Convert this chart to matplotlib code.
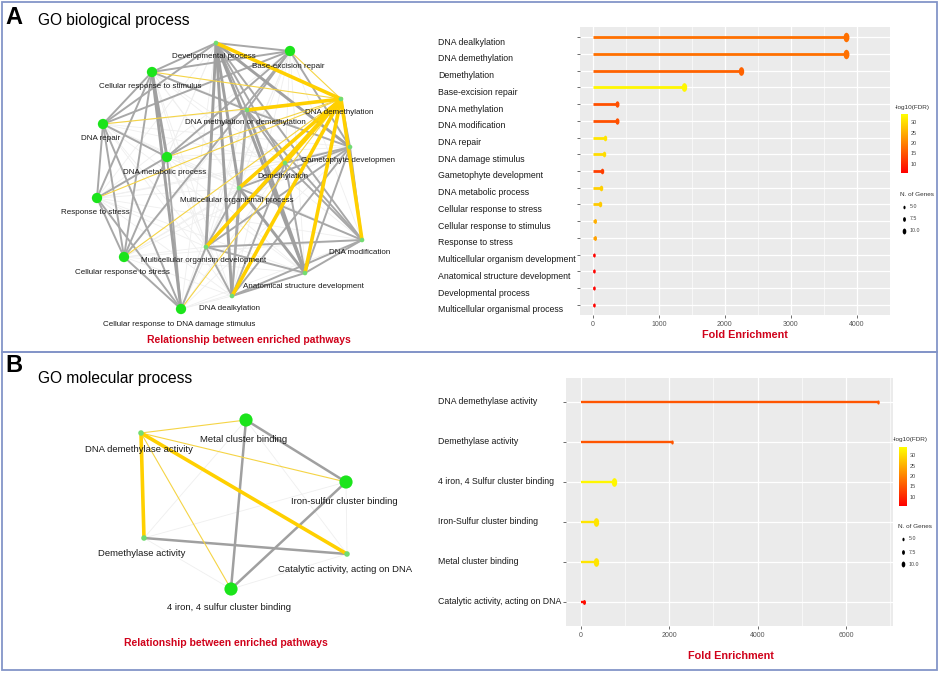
"""
GO enrichment figure: pathway networks plus fold-enrichment lollipop charts.
"""

import numpy as np
import matplotlib
matplotlib.use("Agg")
import matplotlib.pyplot as plt
import matplotlib.transforms as mtransforms
from matplotlib.collections import LineCollection
from matplotlib.colors import LinearSegmentedColormap, Normalize
from matplotlib.cm import ScalarMappable
from matplotlib.patches import Rectangle
from matplotlib.path import Path
from matplotlib.markers import MarkerStyle

plt.rcParams['font.family'] = ['Liberation Sans', 'DejaVu Sans']

W, H = 941, 673

# ---------------- panel A : GO biological process (lollipop) ----------------
bp_terms = [
    "DNA dealkylation", "DNA demethylation", "Demethylation", "Base-excision repair",
    "DNA methylation", "DNA modification", "DNA repair", "DNA damage stimulus",
    "Gametophyte development", "DNA metabolic process", "Cellular response to stress",
    "Cellular response to stimulus", "Response to stress",
    "Multicellular organism development", "Anatomical structure development",
    "Developmental process", "Multicellular organismal process",
]
bp_fold = [3840, 3840, 2240, 1380, 370, 370, 180, 165, 145, 128, 115, 38, 28, 14, 14, 14, 14]
bp_fdr = [18, 18, 16.5, 33, 14.5, 14.5, 31, 30, 12.5, 28.5, 28, 25, 23.5, 6, 6, 6, 6]
bp_genes = [10, 10, 9, 9, 6, 6, 5, 5, 5, 5, 5, 4, 4, 3, 3, 3, 3]
bp_xticks = [0, 1000, 2000, 3000, 4000]

# ---------------- panel B : GO molecular process (lollipop) ----------------
mf_terms = [
    "DNA demethylase activity", "Demethylase activity", "4 iron, 4 Sulfur cluster binding",
    "Iron-Sulfur cluster binding", "Metal cluster binding", "Catalytic activity, acting on DNA",
]
mf_fold = [6730, 2070, 750, 333, 333, 68]
mf_fdr = [15, 15, 33, 31, 31, 7]
mf_genes = [3, 3, 9, 9, 9, 4]
mf_xticks = [0, 2000, 4000, 6000]

fdr_ticks = [10, 15, 20, 25, 30]
fdr_range = (5.6, 33.9)
legend_genes = [5.0, 7.5, 10.0]

# ---------------- panel A network ----------------
bp_keys = ["DevP", "BER", "CRS", "DDM", "DMD", "DR", "GD", "DMP", "DEM",
           "MOP", "RS", "MOD", "DMOD", "CRSt", "ASD", "DDA", "CRDDS"]
bp_labels = ["Developmental process", "Base-excision repair", "Cellular response to stimulus",
             "DNA demethylation", "DNA methylation or demethylation", "DNA repair",
             "Gametophyte developmen", "DNA metabolic process", "Demethylation",
             "Multicellular organismal process", "Response to stress",
             "Multicellular organism development", "DNA modification",
             "Cellular response to stress", "Anatomical structure development",
             "DNA dealkylation", "Cellular response to DNA damage stimulus"]
bp_node_x = [216, 290, 152, 341, 247, 103, 350, 167, 285, 239, 97, 206, 362, 124, 305, 232, 181]
bp_node_y = [43, 51, 72, 99, 110, 124, 147, 157, 163, 188, 198, 247, 240, 257, 273, 296, 309]
bp_node_big = [0, 1, 1, 0, 0, 1, 0, 1, 0, 0, 1, 0, 0, 1, 0, 0, 1]

bp_gray_thick = [("CRS", "DMP"), ("CRS", "CRDDS"), ("DevP", "MOD"), ("DevP", "DDA"),
                 ("DevP", "ASD"), ("DevP", "MOP"), ("DMD", "ASD"), ("MOP", "ASD"), ("DevP", "GD")]
bp_gray = [
    ("DevP", "BER"), ("DevP", "CRS"), ("DevP", "DMD"), ("DevP", "DEM"), ("DevP", "DMOD"),
    ("DevP", "DR"), ("BER", "CRS"), ("BER", "DR"), ("BER", "DMP"), ("BER", "DMD"),
    ("BER", "GD"), ("BER", "CRSt"), ("CRS", "DR"), ("CRS", "RS"), ("CRS", "CRSt"),
    ("CRS", "DMD"), ("DR", "DMP"), ("DR", "RS"), ("DR", "CRSt"), ("DR", "CRDDS"),
    ("DMP", "RS"), ("DMP", "CRSt"), ("DMP", "CRDDS"), ("DMP", "DMD"), ("RS", "CRSt"),
    ("RS", "CRDDS"), ("CRSt", "CRDDS"), ("CRDDS", "MOD"), ("DMD", "DEM"), ("DMD", "GD"),
    ("DMD", "DMOD"), ("DMD", "DDA"), ("DMD", "MOP"), ("DDM", "GD"), ("GD", "DEM"),
    ("GD", "MOP"), ("GD", "MOD"), ("GD", "ASD"), ("GD", "DMOD"), ("GD", "DDA"),
    ("DEM", "MOD"), ("DEM", "ASD"), ("DEM", "DMOD"), ("DEM", "DDA"), ("MOP", "MOD"),
    ("MOP", "DDA"), ("MOP", "DMOD"), ("MOD", "ASD"), ("MOD", "DDA"), ("MOD", "DMOD"),
    ("ASD", "DDA"), ("ASD", "DMOD"), ("DDA", "DMOD"),
]
bp_yellow_thick = [("DDM", "DevP"), ("DDM", "DMD"), ("DDM", "DEM"), ("DDM", "MOP"),
                   ("DDM", "DDA"), ("DDM", "ASD"), ("DDM", "DMOD"), ("DDM", "MOD")]
bp_yellow_thin = [("DDM", "BER"), ("DDM", "CRS"), ("DDM", "DR"), ("DDM", "DMP"),
                  ("DDM", "RS"), ("DDM", "CRSt"), ("DDM", "CRDDS")]

# ---------------- panel B network ----------------
mf_keys = ["DDMA", "MCB", "ISCB", "DA", "CAT", "FE4"]
mf_labels = ["DNA demethylase activity", "Metal cluster binding", "Iron-sulfur cluster binding",
             "Demethylase activity", "Catalytic activity, acting on DNA",
             "4 iron, 4 sulfur cluster binding"]
mf_node_x = [141, 246, 346, 144, 347, 231]
mf_node_y = [433, 420, 482, 538, 554, 589]
mf_node_big = [0, 1, 1, 0, 0, 1]

mf_gray = [("MCB", "ISCB"), ("MCB", "FE4"), ("ISCB", "FE4"), ("DA", "CAT")]
mf_yellow_thick = [("DDMA", "DA"), ("DDMA", "CAT")]
mf_yellow_thin = [("DDMA", "MCB"), ("DDMA", "ISCB"), ("DDMA", "FE4")]

RED_TXT = '#D0021B'
cmap = LinearSegmentedColormap.from_list("fdr", ["#FF0000", "#FF8000", "#FFFF00"])
norm = Normalize(*fdr_range)
ELLIPSE = MarkerStyle(Path.unit_circle().transformed(mtransforms.Affine2D().scale(0.62, 1.0)))


def px_axes(fig, x0, y0, x1, y1):
    """Axes placed by pixel box (top-left origin)."""
    return fig.add_axes([x0 / W, 1 - y1 / H, (x1 - x0) / W, (y1 - y0) / H])


def gene_ms(n):
    return 0.55 * n + 1.3


def draw_network(ax, keys, labels, xs, ys, big, groups, fsize, s_big, s_small, dy_big, dy_small):
    pos = dict(zip(keys, zip(xs, ys)))
    used = set(frozenset(e) for edges, _, _ in groups for e in edges)
    faint = [(pos[a], pos[b]) for i, a in enumerate(keys) for b in keys[i + 1:]
             if frozenset((a, b)) not in used]
    ax.add_collection(LineCollection(faint, colors='#EFEFEF', linewidths=0.6, zorder=1))
    for z, (edges, color, lw) in enumerate(groups):
        segs = [(pos[a], pos[b]) for a, b in edges]
        ax.add_collection(LineCollection(segs, colors=color, linewidths=lw,
                                         zorder=2 + z, capstyle='round'))
    big = np.array(big, dtype=bool)
    xs, ys = np.array(xs), np.array(ys)
    ax.scatter(xs[~big], ys[~big], s=s_small, color='#72DC72', edgecolors='none', zorder=10)
    ax.scatter(xs[big], ys[big], s=s_big, color='#1BE41B', edgecolors='none', zorder=10)
    for x, y, b, lab in zip(xs, ys, big, labels):
        ax.text(x - 2, y + (dy_big if b else dy_small), lab, fontsize=fsize,
                ha='center', va='center', color='#1A1A1A', zorder=11)


def draw_lollipop(fig, box, terms, fold, fdr, genes, xticks, lw, label_x, label_dy, label_coords):
    ax = px_axes(fig, *box)
    y = np.arange(len(terms))
    colors = cmap(norm(np.array(fdr)))
    ax.set_facecolor('#EBEBEB')
    ax.set_axisbelow(True)
    ax.hlines(y, 0, fold, colors=colors, linewidth=lw, zorder=3)
    for xi, yi, c, n in zip(fold, y, colors, genes):
        ax.plot(xi, yi, marker=ELLIPSE, ms=gene_ms(n), color=c, mec='none', zorder=4)
    span = max(fold)
    ax.set_xlim(-0.05 * span, span * 1.05)
    ax.set_ylim(len(terms) - 0.4, -0.6)
    ax.set_xticks(xticks)
    ax.set_xticks([t + (xticks[1] - xticks[0]) / 2 for t in xticks], minor=True)
    ax.set_yticks(y)
    ax.set_yticklabels([])
    ax.grid(which='major', color='white', linewidth=0.9)
    ax.grid(which='minor', axis='x', color='white', linewidth=0.45)
    ax.tick_params(axis='both', which='major', length=2, width=0.5, color='#333333',
                   labelsize=5, labelcolor='#555555', pad=2)
    ax.tick_params(which='minor', length=0)
    for s in ax.spines.values():
        s.set_visible(False)
    trans = mtransforms.blended_transform_factory(fig.transFigure, ax.transData)
    trans = mtransforms.offset_copy(trans, fig=fig, y=-label_dy, units='dots')
    for yi, t in zip(y, terms):
        ax.text(label_x / W, yi, t, transform=trans, fontsize=6.3, ha='left', va='center',
                color='#1A1A1A')
    ax.set_xlabel("Fold Enrichment", fontsize=7.8, fontweight='bold', color=RED_TXT, va='center')
    ax.xaxis.set_label_coords(*label_coords)
    return ax


def draw_legend(fig, canvas, title_y, bar_box, genes_title_y, dot_x, dot_ys):
    canvas.text(bar_box[0] - 6, title_y, "-log10(FDR)", fontsize=4.6, ha='left', va='center',
                color='#333333')
    cax = px_axes(fig, *bar_box)
    cb = fig.colorbar(ScalarMappable(norm=norm, cmap=cmap), cax=cax, ticks=fdr_ticks)
    cb.outline.set_visible(False)
    cax.tick_params(length=0, labelsize=4, labelcolor='#444444', pad=2)
    canvas.text(bar_box[0] - 1, genes_title_y, "N. of Genes", fontsize=4.6, ha='left',
                va='center', color='#333333')
    for n, yy in zip(legend_genes, dot_ys):
        canvas.plot(dot_x, yy, marker=ELLIPSE, ms=gene_ms(n) * 0.62, color='black', mec='none')
        canvas.text(dot_x + 6, yy, f"{n:.1f}", fontsize=3.8, ha='left', va='center',
                    color='#444444')


fig = plt.figure(figsize=(W / 100, H / 100), dpi=100)
canvas = fig.add_axes([0, 0, 1, 1])
canvas.set_xlim(0, W)
canvas.set_ylim(H, 0)
canvas.axis('off')

# panel frames
for y0, y1 in [(2, 352), (352, 670)]:
    canvas.add_patch(Rectangle((2, y0), 935, y1 - y0, fill=False, ec='#8395C8', lw=1.3))

canvas.text(5, 18, "A", fontsize=17, fontweight='bold', va='center', ha='left')
canvas.text(38, 20, "GO biological process", fontsize=11.2, va='center', ha='left')
canvas.text(5, 366, "B", fontsize=17, fontweight='bold', va='center', ha='left')
canvas.text(38, 379, "GO molecular process", fontsize=11.2, va='center', ha='left')

draw_network(canvas, bp_keys, bp_labels, bp_node_x, bp_node_y, bp_node_big,
             [(bp_gray, '#A8A8A8', 1.4), (bp_gray_thick, '#A0A0A0', 2.1),
              (bp_yellow_thin, '#F5D445', 0.8), (bp_yellow_thick, '#FFD000', 2.6)],
             5.8, 55, 11, 15, 13)
canvas.text(249, 340, "Relationship between enriched pathways", fontsize=7.5,
            fontweight='bold', color=RED_TXT, ha='center', va='center')

draw_network(canvas, mf_keys, mf_labels, mf_node_x, mf_node_y, mf_node_big,
             [(mf_gray, '#A0A0A0', 1.8), (mf_yellow_thin, '#F5D445', 0.8),
              (mf_yellow_thick, '#FFD000', 2.6)],
             6.8, 90, 16, 19, 16)
canvas.text(226, 643, "Relationship between enriched pathways", fontsize=7.5,
            fontweight='bold', color=RED_TXT, ha='center', va='center')

draw_lollipop(fig, (580, 27, 890, 315), bp_terms, bp_fold, bp_fdr, bp_genes, bp_xticks,
              2.0, 438, 5, (0.532, -0.069))
draw_lollipop(fig, (566, 378, 893, 626), mf_terms, mf_fold, mf_fdr, mf_genes, mf_xticks,
              1.7, 438, 0, (0.505, -0.121))

draw_legend(fig, canvas, 107, (901, 114, 908, 173), 194, 904, [207, 219, 231])
draw_legend(fig, canvas, 439, (899, 447, 907, 506), 526, 903, [539, 552, 564])

fig.savefig("out.png", dpi=100)
